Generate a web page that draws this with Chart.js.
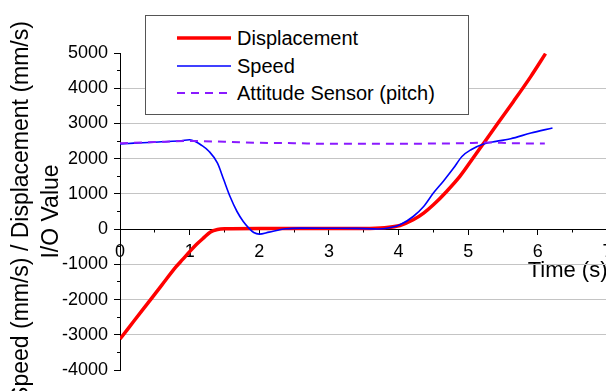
<!DOCTYPE html>
<html>
<head>
<meta charset="utf-8">
<script src="https://cdn.jsdelivr.net/npm/chart.js@4"></script>
<style>
  html, body { margin: 0; padding: 0; background: #fff; overflow: hidden; }
  #wrap { position: relative; width: 620px; height: 391px; }
  #legend { position: absolute; left: 145px; top: 15px; width: 322px; height: 98px;
            border: 1.5px solid #555; background: #fff; font-family: "Liberation Sans", Arial, sans-serif; }
  .row { position: absolute; left: 0; height: 24px; }
  .row svg { position: absolute; left: 31px; top: 0; }
  .row span { position: absolute; left: 91px; top: 0; line-height: 24px; font-size: 20px; color: #000; white-space: nowrap; }
</style>
</head>
<body>
<div id="wrap">
  <canvas id="c" width="620" height="391"></canvas>
  <div id="legend"></div>
</div>
<script>
// ---- data ----
const dispT  = [0, 0.2, 0.4, 0.6, 0.8, 0.9, 1.0, 1.1, 1.2, 1.3, 1.4, 1.5, 2.0, 2.5, 3.0, 3.5, 3.8, 4.02, 4.21, 4.36, 4.5, 4.69, 4.88, 5.07, 5.24, 5.41, 5.65, 5.9, 6.11];
const dispV  = [-3120, -2610, -2100, -1590, -1080, -860, -640, -430, -250, -80, -10, 10, 20, 20, 20, 20, 40, 102, 264, 455, 690, 1069, 1495, 2017, 2490, 2964, 3626, 4337, 4981];

const speedT = [0, 0.2, 0.41, 0.6, 0.88, 1.0, 1.08, 1.16, 1.28, 1.4, 1.49, 1.58, 1.68, 1.77, 1.85, 1.92, 2.0, 2.14, 2.38, 2.6, 3.0, 3.4, 3.7, 3.85, 4.02, 4.21, 4.36, 4.5, 4.64, 4.79, 4.91, 5.04, 5.22, 5.4, 5.61, 5.9, 6.21];
const speedV = [2415, 2440, 2460, 2480, 2510, 2535, 2490, 2395, 2205, 1875, 1400, 926, 500, 216, 28, -97, -142, -85, 8, 28, 25, 20, 5, 30, 122, 358, 642, 1023, 1353, 1733, 2063, 2253, 2415, 2490, 2566, 2728, 2870];

const attT   = [0, 0.5, 1.0, 1.5, 2.0, 2.5, 3.0, 3.5, 4.0, 4.5, 5.0, 5.3, 5.6, 6.1];
const attV   = [2440, 2470, 2500, 2480, 2450, 2440, 2420, 2420, 2420, 2430, 2440, 2460, 2440, 2430];

const seriesNames = ["Displacement", "Speed", "Attitude Sensor (pitch)"];
const xTitle = "Time (s)";
const yTitle = ["Speed (mm/s) / Displacement (mm/s)", "I/O Value"];
const xMin = 0, xMax = 7, xStep = 1;
const yMin = -4000, yMax = 5000, yStep = 1000;

const pts = (T, V) => T.map((t, i) => ({ x: t, y: V[i] }));
const FONT = "'Liberation Sans', Arial, sans-serif";

const datasets = [
  { label: seriesNames[0], data: pts(dispT, dispV), borderColor: "#ff0000", borderWidth: 3.5, order: 2 },
  { label: seriesNames[1], data: pts(speedT, speedV), borderColor: "#0000ff", borderWidth: 1.6, order: 1 },
  { label: seriesNames[2], data: pts(attT, attV), borderColor: "#8a1aff", borderWidth: 2, borderDash: [8, 6], order: 0 }
];
datasets.forEach(d => {
  d.pointRadius = 0; d.fill = false; d.tension = 0.35; d.cubicInterpolationMode = "monotone";
  d.xAxisID = "x"; d.yAxisID = "y";
});

const chart = new Chart(document.getElementById("c"), {
  type: "line",
  data: { datasets },
  options: {
    responsive: false,
    devicePixelRatio: 1,
    animation: false,
    layout: { padding: { left: 0, top: 53, right: 12.5, bottom: 21 } },
    plugins: { legend: { display: false }, tooltip: { enabled: false } },
    scales: {
      x: {
        type: "linear", min: xMin, max: xMax,
        position: { y: 0 },
        grid: { drawOnChartArea: false, drawTicks: true, tickLength: 5, tickColor: "#000", tickWidth: 1 },
        border: { display: true, color: "#000", width: 1 },
        ticks: { stepSize: xStep, autoSkip: false, maxRotation: 0, padding: 7, color: "#000",
                 font: { family: FONT, size: 18 }, callback: v => String(v) },
        title: { display: true, text: xTitle, align: "end", color: "#000",
                 font: { family: FONT, size: 22 }, padding: { top: -12, bottom: 0 } }
      },
      x2: {
        type: "linear", min: xMin, max: xMax, position: { y: 0 },
        grid: { drawOnChartArea: false, drawTicks: true, tickLength: 3.5, tickColor: "#000" },
        border: { display: false },
        ticks: { stepSize: xStep / 2, display: false, autoSkip: false }
      },
      y: {
        type: "linear", min: yMin, max: yMax, position: "left",
        afterFit: s => { s.width = 120; },
        grid: {
          color: c => (c.tick && c.tick.value !== 0 && c.tick.value >= -3000 && c.tick.value <= 4000) ? "#c4c4c4" : "rgba(0,0,0,0)",
          lineWidth: 1, drawTicks: true, tickLength: 6, tickColor: "#000"
        },
        border: { display: true, color: "#000", width: 1 },
        ticks: { stepSize: yStep, autoSkip: false, padding: 6, color: "#000",
                 font: { family: FONT, size: 18 }, callback: v => String(v) },
        title: { display: true, text: yTitle, color: "#000",
                 font: { family: FONT, size: 23, lineHeight: "30px" }, padding: { top: 7, bottom: 0 } }
      },
      y2: {
        type: "linear", min: yMin, max: yMax, position: { x: 0 },
        grid: { drawOnChartArea: false, drawTicks: true, tickLength: 3, tickColor: "#000" },
        border: { display: false },
        ticks: { stepSize: yStep / 2, display: false, autoSkip: false }
      }
    }
  }
});

// ---- HTML legend built from the chart's datasets ----
const legend = document.getElementById("legend");
chart.data.datasets.forEach((ds, i) => {
  const row = document.createElement("div");
  row.className = "row";
  row.style.top = (10 + i * 27.5) + "px";
  row.style.width = "100%";
  const dash = ds.borderDash ? ds.borderDash.join(",") : "none";
  row.innerHTML =
    '<svg width="54" height="24"><line x1="0" y1="12" x2="54" y2="12" stroke="' + ds.borderColor +
    '" stroke-width="' + ds.borderWidth + '" stroke-dasharray="' + dash + '"/></svg>' +
    '<span>' + ds.label + '</span>';
  legend.appendChild(row);
});
</script>
</body>
</html>
